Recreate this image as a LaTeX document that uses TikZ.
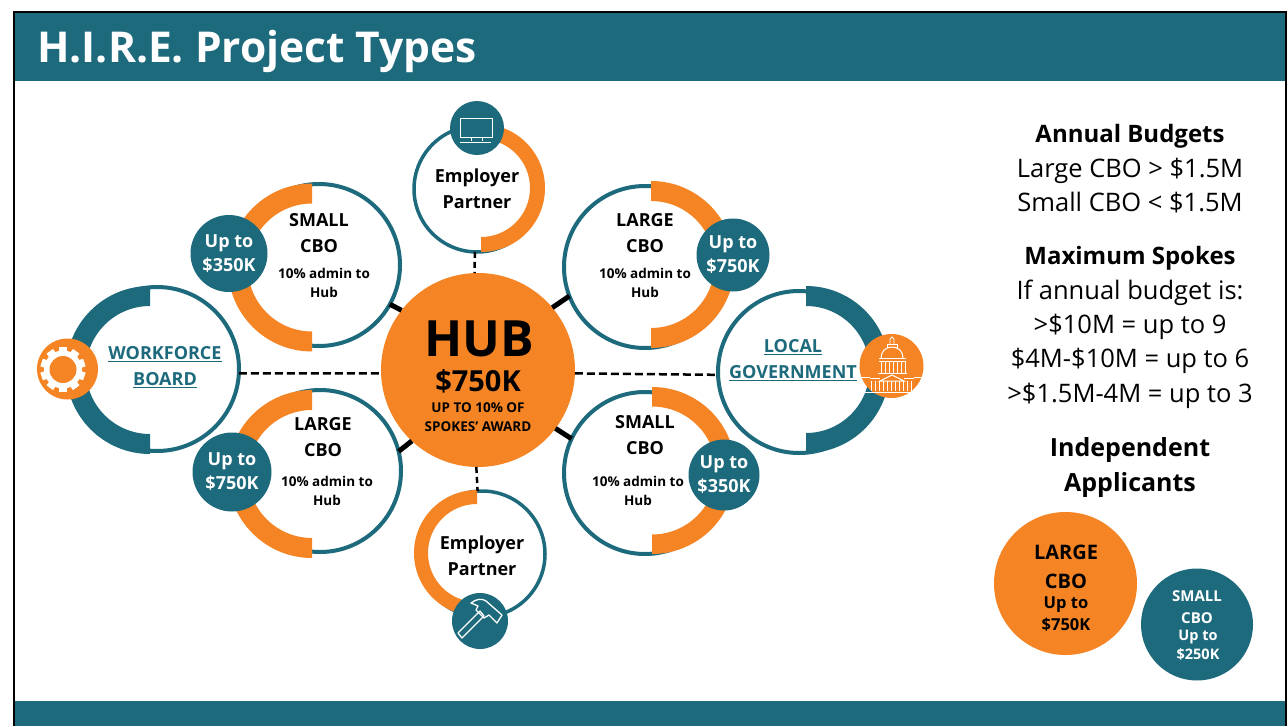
\documentclass[tikz,border=0pt]{standalone}
\usepackage{fontspec}
\setmainfont{Open Sans}
\definecolor{hireteal}{HTML}{1D6A7D}
\definecolor{hireorange}{HTML}{F58524}
% half ring: colour, centre x, centre y, outer radius, inner radius, end angle (270 left, -90 right)
\newcommand{\halfring}[6]{\fill[#1] (#2,#3-#4) arc[start angle=90,end angle=#6,radius=#4pt] -- (#2,#3+#5) arc[start angle=#6,end angle=90,radius=#5pt] -- cycle;}
\newcommand{\sizedfont}[2]{\fontsize{#1}{#2}\selectfont}
\begin{document}
\begin{tikzpicture}[x=1pt,y=-1pt,
  spoke/.style={shape=circle, draw=hireteal, line width=4pt, inner sep=0pt, outer sep=0pt},
  badge/.style={shape=circle, fill=hireteal, inner sep=0pt, outer sep=0pt, text=white, align=center, font=\bfseries\sizedfont{18}{24}},
  iconbadge/.style={shape=circle, fill=hireorange, inner sep=0pt, outer sep=0pt},
  spokename/.style={align=center, inner sep=0pt, font=\bfseries\sizedfont{18}{26}},
  spokenote/.style={align=center, inner sep=0pt, font=\bfseries\sizedfont{13.5}{19}},
  govname/.style={align=center, inner sep=0pt, text=hireteal, font=\bfseries\sizedfont{18}{26}},
  sidetext/.style={align=center, inner sep=0pt, font=\sizedfont{25.5}{34.4}},
  sidehead/.style={font=\bfseries\sizedfont{24}{34.4}},
  dashlink/.style={draw=black, line width=2.5pt, dash pattern=on 8pt off 4pt},
  solidlink/.style={draw=black, line width=5pt},
  iconline/.style={draw=white, line width=1pt}]

  \useasboundingbox (0,0) rectangle (1288,726);
  \fill[white] (0,0) rectangle (1288,726);

  % frame and bands
  \fill[hireteal] (14,12) rectangle (1286,81);
  \fill[hireteal] (14,701) rectangle (1286,726);
  \draw[black, line width=1.5pt] (14,726) -- (14,12) -- (1286,12) -- (1286,726);
  \node[anchor=base west, inner sep=0pt, text=white, font=\bfseries\sizedfont{42.5}{42.5}] (title) at (37,62) {H.I.R.E. Project Types};

  % spokes
  \node[spoke, minimum size=162pt] (smallTL) at (319,265) {};
  \halfring{hireorange}{312}{267.5}{84}{64}{270}
  \node[spoke, minimum size=162pt] (largeTR) at (645,267) {};
  \halfring{hireorange}{651}{264.5}{83.5}{63.5}{-90}
  \node[spoke, minimum size=162pt] (largeBL) at (320,471) {};
  \halfring{hireorange}{312}{474}{84}{64}{270}
  \node[spoke, minimum size=162pt] (smallBR) at (645,473) {};
  \halfring{hireorange}{652}{470.5}{83.5}{64}{-90}
  \node[spoke, minimum size=126pt, line width=3.5pt] (employerT) at (477,189) {};
  \halfring{hireorange}{481}{188}{64}{49}{-90}
  \node[spoke, minimum size=126pt, line width=3.5pt] (employerB) at (482,554) {};
  \halfring{hireorange}{477}{553}{63}{49}{270}
  \node[spoke, minimum size=164pt] (workforce) at (157,369) {};
  \halfring{hireteal}{150}{370}{84}{64}{270}
  \node[spoke, minimum size=162pt] (localgov) at (799,372) {};
  \halfring{hireteal}{806}{369.5}{83.5}{63.5}{-90}

  % hub and its links
  \node[shape=circle, fill=hireorange, minimum size=194pt, inner sep=0pt, outer sep=0pt] (hub) at (478,370) {};
  \draw[solidlink] (hub.142) -- (smallTL.331);
  \draw[solidlink] (hub.40) -- (largeTR.201);
  \draw[solidlink] (hub.227) -- (largeBL.14);
  \draw[solidlink] (hub.323) -- (smallBR.155);
  \draw[dashlink, dash pattern=on 6pt off 4pt] (employerT.268) -- (hub.92);
  \draw[dashlink, dash pattern=on 6pt off 4pt] (hub.269.5) -- (employerB.94.5);
  \draw[dashlink] (workforce.-3.5) -- (hub.182.4);
  \draw[dashlink] (hub.-2.4) -- (localgov.182.8);
  \node[inner sep=0pt, font=\bfseries\sizedfont{50}{50}] (hubname) at (479,339) {HUB};
  \node[inner sep=0pt, font=\bfseries\sizedfont{29}{29}] (hubmoney) at (478,381) {\$750K};
  \node[align=center, inner sep=0pt, font=\bfseries\sizedfont{13.5}{19}] (hubnote) at (478,417.5) {UP TO 10\% OF\\SPOKES' AWARD};

  % spoke texts
  \node[spokename] (smallTLname) at (319,233) {SMALL\\CBO};
  \node[spokenote] (smallTLnote) at (324,282.5) {10\% admin to\\Hub};
  \node[spokename] (largeTRname) at (645,233) {LARGE\\CBO};
  \node[spokenote] (largeTRnote) at (645,282.5) {10\% admin to\\Hub};
  \node[spokename] (largeBLname) at (323,437) {LARGE\\CBO};
  \node[spokenote] (largeBLnote) at (327,491) {10\% admin to\\Hub};
  \node[spokename] (smallBRname) at (645,435) {SMALL\\CBO};
  \node[spokenote] (smallBRnote) at (638,491) {10\% admin to\\Hub};
  \node[spokename] (employerTname) at (477,189) {Employer\\Partner};
  \node[spokename] (employerBname) at (482,556) {Employer\\Partner};
  \node[govname] (workforcename) at (165,367) {\underline{WORKFORCE}\\\underline{BOARD}};
  \node[govname] (localgovname) at (793,360) {\underline{LOCAL}\\\underline{GOVERNMENT}};

  % money badges
  \node[badge, minimum size=77pt] (smallTLbadge) at (229,253.5) {Up to\\\$350K};
  \node[badge, minimum size=73pt] (largeTRbadge) at (733,255) {Up to\\\$750K};
  \node[badge, minimum size=79pt] (largeBLbadge) at (232,472) {Up to\\\$750K};
  \node[badge, minimum size=71pt] (smallBRbadge) at (724,475) {Up to\\\$350K};

  % monitor icon
  \node[badge, minimum size=54pt] (monitor) at (477,128) {};
  \draw[iconline] (460,118) rectangle (492,137);
  \draw[iconline] (471,137) -- (471,141) (482,137) -- (482,141);
  \draw[iconline] (460,142) -- (491,142);

  % hammer icon
  \node[badge, minimum size=56pt] (hammer) at (480,621) {};
  \draw[iconline, line join=round, line width=1.3pt] (458,633) -- (462,638) -- (484,616) -- (480,611) -- cycle;
  \draw[iconline, line join=round, line width=1.3pt] (471,603) .. controls (476,599) and (482,598) .. (486,601) -- (502,615) -- (497,623) -- (489,615) -- (484,618) -- (476,610) -- (478,606) -- cycle;

  % gear icon
  \node[iconbadge, minimum size=61pt] (gear) at (67.5,369) {};
  \foreach \ang in {0,36,...,324}
    \fill[white, rotate around={\ang:(63,369.5)}] (59,347) rectangle (67,360);
  \fill[white] (63,369.5) circle[radius=19pt];
  \fill[hireorange] (63,369.5) circle[radius=13.5pt];

  % capitol icon
  \node[iconbadge, minimum size=64pt] (capitol) at (891.5,366) {};
  \draw[iconline, line width=.9pt] (890,344) -- (890,339) -- (892,337) -- (894,339) -- (894,344);
  \draw[iconline, line width=.9pt] (887,348) -- (887,344) -- (897,344) -- (897,348);
  \draw[iconline] (881,358) .. controls (881,351) and (886,347) .. (892,347) .. controls (898,347) and (903,351) .. (903,358);
  \draw[iconline] (879,358) -- (906,358) (879,361) -- (906,361) (878,373) -- (907,373);
  \foreach \colx in {881,885,...,905}
    \draw[white, line width=.8pt] (\colx,361) -- (\colx,373);
  \draw[iconline] (880,381) -- (892,375) -- (904,381) -- cycle;
  \draw[iconline] (870,378) -- (880,378) (904,378) -- (914,378);
  \foreach \colx in {871,875,...,911}
    \draw[white, line width=.8pt] (\colx,381) -- (\colx,391);
  \draw[iconline] (862,392) -- (922,392) (860,377) -- (870,377) (914,377) -- (923,377);

  % side panel
  \node[sidetext] (budgets) at (1130,169) {{\bfseries\sizedfont{24}{34.4}Annual Budgets}\\Large CBO > \$1.5M\\Small CBO < \$1.5M};
  \node[sidetext] (maxspokes) at (1130,327.5) {{\bfseries\sizedfont{24}{34.4}Maximum Spokes}\\If annual budget is:\\>\$10M = up to 9\\\$4M-\$10M = up to 6\\>\$1.5M-4M = up to 3};
  \node[sidetext, font=\bfseries\sizedfont{25}{35}] (independent) at (1130,467.5) {Independent\\Applicants};

  % independent applicants
  \node[shape=circle, fill=hireorange, minimum size=143pt, inner sep=0pt] (largeCBO) at (1065.5,583.5) {};
  \node[align=center, inner sep=0pt, font=\bfseries\sizedfont{20}{29}] (largeCBOname) at (1066,566.5) {LARGE\\CBO};
  \node[align=center, inner sep=0pt, font=\bfseries\sizedfont{16.5}{22}] (largeCBOmoney) at (1066,614) {Up to\\\$750K};
  \node[shape=circle, fill=hireteal, minimum size=112pt, inner sep=0pt] (smallCBO) at (1197,624.5) {};
  \node[align=center, inner sep=0pt, text=white, font=\bfseries\sizedfont{15}{22}] (smallCBOname) at (1197,607) {SMALL\\CBO};
  \node[align=center, inner sep=0pt, text=white, font=\bfseries\sizedfont{14.5}{19}] (smallCBOmoney) at (1198,645.5) {Up to\\\$250K};
\end{tikzpicture}
\end{document}
